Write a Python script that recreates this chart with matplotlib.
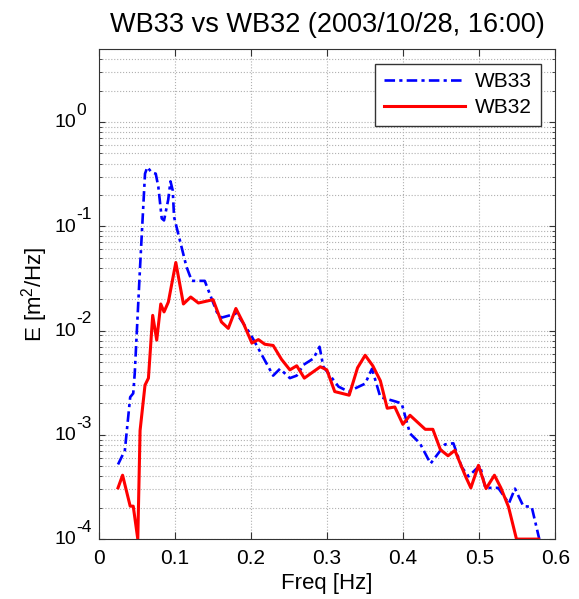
import numpy as np
import matplotlib
matplotlib.use("Agg")
import matplotlib.pyplot as plt
from matplotlib.ticker import LogLocator, MultipleLocator, NullFormatter, FuncFormatter

plt.rcParams['font.family'] = ['Liberation Sans', 'DejaVu Sans']
plt.rcParams['mathtext.fontset'] = 'custom'
plt.rcParams['mathtext.rm'] = 'Liberation Sans'
plt.rcParams['mathtext.it'] = 'Liberation Sans:italic'
plt.rcParams['mathtext.default'] = 'regular'

# WB33 spectrum
f33 = [0.025, 0.034, 0.041, 0.045, 0.047, 0.054, 0.0605, 0.0636, 0.069, 0.0746,
       0.078, 0.0825, 0.0855, 0.091, 0.094, 0.097, 0.0987, 0.103, 0.115, 0.122,
       0.139, 0.155, 0.161, 0.181, 0.199, 0.229, 0.238, 0.251, 0.260, 0.269,
       0.282, 0.290, 0.295, 0.315, 0.328, 0.350, 0.359, 0.370, 0.389, 0.398,
       0.409, 0.422, 0.436, 0.455, 0.466, 0.477, 0.486, 0.501, 0.508, 0.525,
       0.539, 0.547, 0.558, 0.569, 0.579]
e33 = [5.2e-4, 7.1e-4, 2.3e-3, 2.5e-3, 3.9e-3, 0.041, 0.32, 0.37, 0.33, 0.32,
       0.24, 0.119, 0.114, 0.18, 0.27, 0.22, 0.123, 0.092, 0.041, 0.030,
       0.030, 0.015, 0.0133, 0.0146, 0.0093, 0.0037, 0.0043, 0.0035, 0.0037, 0.0047,
       0.0054, 0.0070, 0.0045, 0.0029, 0.0026, 0.0031, 0.0043, 0.0023, 0.0021, 0.0020,
       0.00103, 8.3e-4, 5.3e-4, 8.1e-4, 8.3e-4, 4.9e-4, 4.0e-4, 5.1e-4, 3.1e-4, 3.1e-4,
       2.2e-4, 3.05e-4, 2.07e-4, 2.04e-4, 1.0e-4]

# WB32 spectrum
f32 = [0.025, 0.031, 0.041, 0.045, 0.051, 0.054, 0.0605, 0.065, 0.0706, 0.0759,
       0.0812, 0.0855, 0.0912, 0.101, 0.111, 0.1206, 0.1307, 0.150, 0.161, 0.170,
       0.180, 0.190, 0.201, 0.2096, 0.218, 0.229, 0.240, 0.251, 0.260, 0.270,
       0.291, 0.2996, 0.310, 0.329, 0.340, 0.350, 0.360, 0.370, 0.379, 0.389,
       0.3996, 0.409, 0.429, 0.439, 0.449, 0.459, 0.468, 0.482, 0.489, 0.499,
       0.509, 0.520, 0.5285, 0.5385, 0.549, 0.578]
e32 = [3.1e-4, 4.1e-4, 2.07e-4, 2.07e-4, 1.0e-4, 1.1e-3, 3.0e-3, 3.5e-3, 0.014, 0.0081,
       0.018, 0.0151, 0.0188, 0.045, 0.018, 0.021, 0.0184, 0.0198, 0.0121, 0.0105,
       0.0163, 0.0117, 0.0076, 0.0082, 0.0074, 0.0072, 0.0053, 0.0042, 0.0046, 0.0035,
       0.0045, 0.0042, 0.0026, 0.0024, 0.0044, 0.0058, 0.0046, 0.0033, 0.0018, 0.00185,
       0.00126, 0.00154, 0.00113, 0.00113, 7.2e-4, 6.3e-4, 7.1e-4, 4.0e-4, 3.1e-4, 5.1e-4,
       3.05e-4, 4.1e-4, 3.1e-4, 2.04e-4, 1.0e-4, 1.0e-4]

decades = [0, -1, -2, -3, -4]

fig = plt.figure(figsize=(5.79, 5.99), dpi=100)
ax = fig.add_axes([0.171, 0.100, 0.788, 0.818])

l33, = ax.semilogy(f33, e33, color='#0000ff', lw=1.9, label='WB33')
l33.set_dashes([4, 1.6, 1.2, 1.6])
ax.semilogy(f32, e32, '-', color='#ff0000', lw=2.2, label='WB32')

ax.set_xlim(0, 0.6)
ax.set_ylim(1e-4, 10**0.7)
ax.xaxis.set_major_locator(MultipleLocator(0.1))
ax.xaxis.set_major_formatter(FuncFormatter(lambda v, p: '%g' % round(v, 3)))
ax.yaxis.set_major_locator(LogLocator(base=10, numticks=10))
ax.yaxis.set_minor_locator(LogLocator(base=10, subs=np.arange(2, 10), numticks=20))
ax.yaxis.set_minor_formatter(NullFormatter())

ax.grid(True, which='major', axis='both', ls=':', color='#b0b0b0', lw=0.8)
ax.grid(True, which='minor', axis='y', ls=':', color='#b0b0b0', lw=0.8)

ax.tick_params(which='both', direction='in', top=True, right=True, colors='#333333')
ax.tick_params(axis='x', which='major', length=5, labelsize=15, pad=7)
ax.tick_params(axis='y', which='major', length=4, labelleft=False)
ax.tick_params(which='minor', length=2.5)
ax.tick_params(labelcolor='black')
for s in ax.spines.values():
    s.set_color('#333333')

# matlab style 10^n labels: base centred on the tick, big exponent above
for n in decades:
    ax.annotate('10', xy=(0, 10.0**n), xycoords=('axes fraction', 'data'),
                xytext=(-16.5, -0.5), textcoords='offset points',
                ha='right', va='center', fontsize=14)
    ax.annotate('%d' % n, xy=(0, 10.0**n), xycoords=('axes fraction', 'data'),
                xytext=(-16.5, 8.5), textcoords='offset points',
                ha='left', va='center', fontsize=12.5)

ax.set_xlabel('Freq [Hz]', fontsize=16, labelpad=4)
ax.set_ylabel('E [m$^2$/Hz]', fontsize=16)
ax.yaxis.set_label_coords(-0.108, 0.5)
ax.set_title('WB33 vs WB32 (2003/10/28, 16:00)', fontsize=19.5, pad=12)

leg = ax.legend(loc='upper right', fontsize=15, handlelength=3.9, handletextpad=0.5,
                fancybox=False, framealpha=1, edgecolor='#333333',
                borderaxespad=0.7, labelspacing=0.35)
leg.get_frame().set_linewidth(1)

fig.savefig('out.png', dpi=100)
